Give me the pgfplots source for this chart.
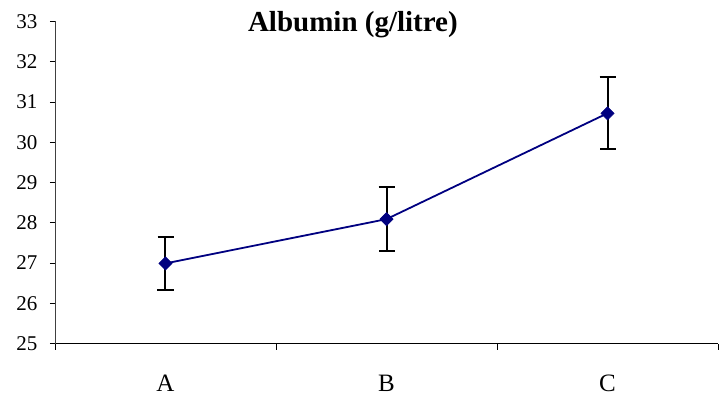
\documentclass[border=0pt]{standalone}
\usepackage{pgfplots}
\pgfplotsset{compat=1.18}
\usepackage{fontspec}
\setmainfont{Liberation Serif}
\definecolor{navy}{RGB}{0,0,128}
\begin{document}
\begin{tikzpicture}
\begin{axis}[
  scale only axis,
  width=663bp, height=322bp,
  at={(0,0)}, anchor=south west,
  xmin=-0.5, xmax=2.5, ymin=25, ymax=33,
  axis x line=bottom, axis y line=left,
  axis line style={-, line width=0.8bp},
  x axis line style={black},
  y axis line style={black!75},
  xtick={0,1,2}, xticklabels={A,B,C},
  major x tick style={draw=none},
  minor xtick={-0.5,0.5,1.5,2.5},
  minor x tick style={black, line width=0.8bp},
  ytick={25,26,...,33},
  y tick style={black, line width=0.8bp},
  tick align=outside,
  major tick length=5bp, minor tick length=6bp,
  xticklabel style={font=\fontsize{25bp}{28bp}\selectfont, yshift=-23bp},
  yticklabel style={font=\fontsize{21bp}{24bp}\selectfont, xshift=-9bp},
  /pgf/number format/assume math mode=true,
  clip=false,
]
\addplot[color=navy, line width=1.8bp, mark=square*, mark size=4.7bp,
  mark options={fill=navy, draw=navy, line width=0.5bp, rotate=45},
  error bars/.cd, y dir=both, y explicit,
  error bar style={solid, black, line width=2bp},
  error mark options={black, line width=2bp, mark size=8bp, rotate=90}]
coordinates {
  (0,26.99) +- (0,0.65)
  (1,28.09) +- (0,0.79)
  (2,30.72) +- (0,0.90)
};
\node[font=\bfseries\fontsize{29bp}{32bp}\selectfont, inner sep=0pt] at (axis cs:0.848,32.93) {Albumin (g/litre)};
\end{axis}
\pgfresetboundingbox
\path (-55bp,-55.5bp) rectangle (664bp,343.5bp);
\end{tikzpicture}
\end{document}
